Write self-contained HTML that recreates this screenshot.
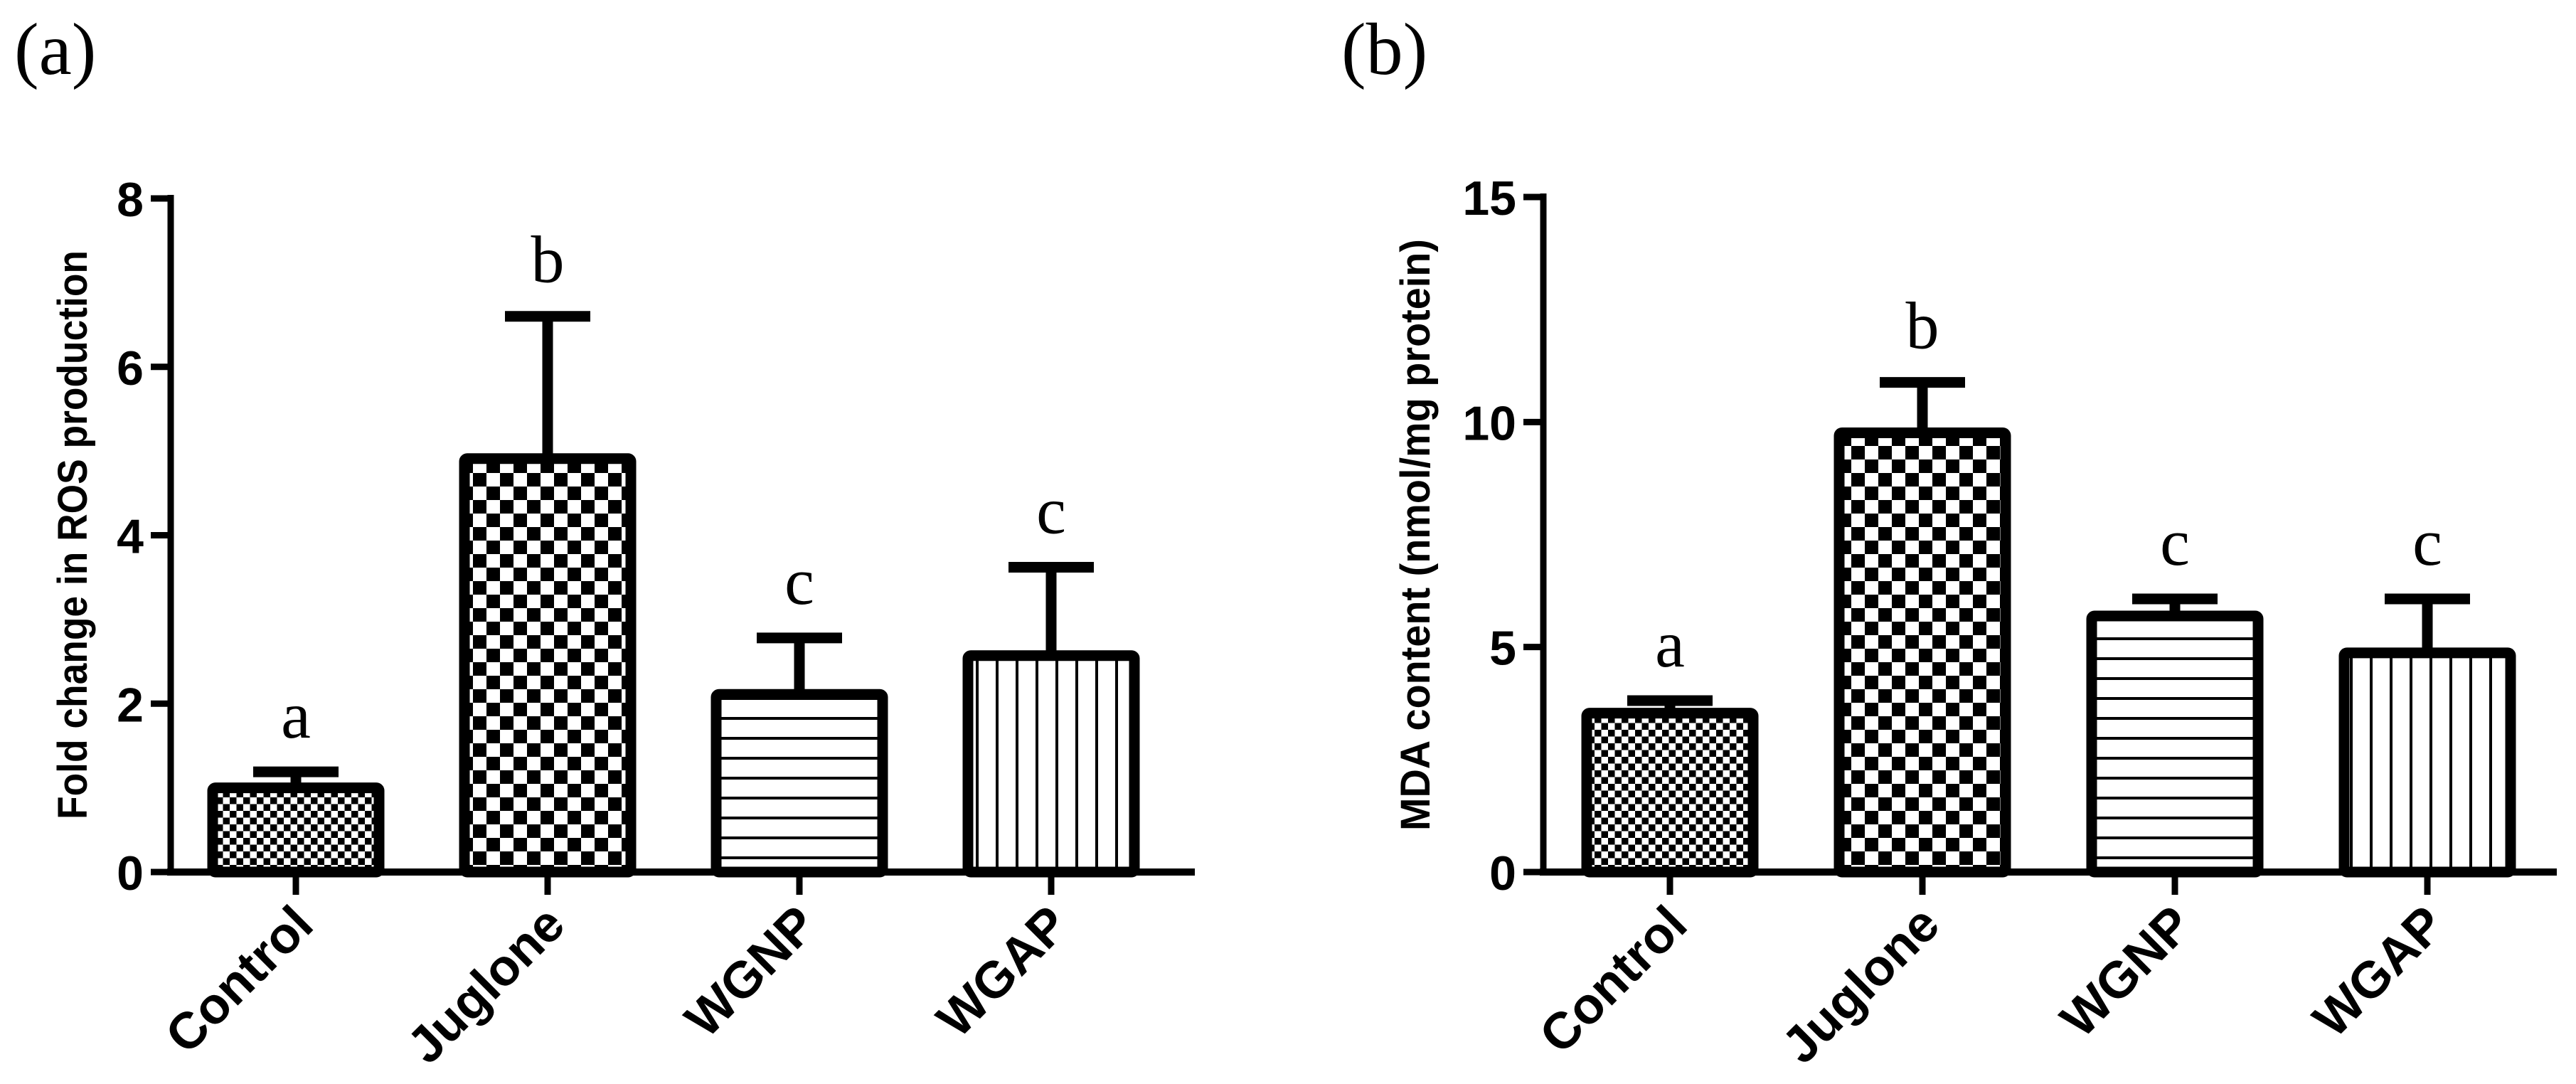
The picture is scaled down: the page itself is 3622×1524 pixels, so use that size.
<!DOCTYPE html>
<html><head><meta charset="utf-8"><style>
html,body{margin:0;padding:0;background:#fff;}
svg{display:block;}
.tick{font-family:"Liberation Sans",sans-serif;font-weight:bold;font-size:68px;}
.cat{font-family:"Liberation Sans",sans-serif;font-weight:bold;font-size:72px;}
.ytitle{font-family:"Liberation Sans",sans-serif;font-weight:bold;font-size:58px;}
.let{font-family:"Liberation Serif",serif;font-size:94px;}
.panel{font-family:"Liberation Serif",serif;font-size:104px;}
</style></head><body>
<svg id="fig" width="3622" height="1524" viewBox="0 0 3622 1524" xmlns="http://www.w3.org/2000/svg">
<defs>
<pattern id="fineChk" patternUnits="userSpaceOnUse" width="19" height="19"><rect width="19" height="19" fill="#fff"/><rect width="9.5" height="9.5" fill="#000"/><rect x="9.5" y="9.5" width="9.5" height="9.5" fill="#000"/></pattern>
<pattern id="coarseChk" patternUnits="userSpaceOnUse" width="38" height="38"><rect width="38" height="38" fill="#fff"/><rect width="19" height="19" fill="#000"/><rect x="19" y="19" width="19" height="19" fill="#000"/></pattern>
<pattern id="hLines" patternUnits="userSpaceOnUse" width="20" height="28"><rect width="20" height="28" fill="#fff"/><rect y="0" width="20" height="4" fill="#000"/></pattern>
<pattern id="vLines" patternUnits="userSpaceOnUse" width="28" height="20"><rect width="28" height="20" fill="#fff"/><rect x="0" width="4" height="20" fill="#000"/></pattern>
</defs>
<text class="panel" x="20" y="104">(a)</text>
<text class="panel" x="1886" y="104">(b)</text>
<g id="chartA"></g>
<g id="chartB"></g>
</svg>
<script>
const categories = ["Control","Juglone","WGNP","WGAP"];
const rosValues = [1.0, 4.91, 2.11, 2.57];
const rosErrors = [0.19, 1.69, 0.67, 1.05];
const rosLetters = ["a","b","c","c"];
const rosTicks = [0,2,4,6,8];
const mdaValues = [3.53, 9.76, 5.69, 4.87];
const mdaErrors = [0.28, 1.12, 0.38, 1.2];
const mdaLetters = ["a","b","c","c"];
const mdaTicks = [0,5,10,15];

const NS="http://www.w3.org/2000/svg";
function mk(parent,tag,attrs,text){const e=document.createElementNS(NS,tag);for(const k in attrs)e.setAttribute(k,attrs[k]);if(text!==undefined)e.textContent=text;parent.appendChild(e);return e;}
const fills=["url(#fineChk)","url(#coarseChk)","url(#hLines)","url(#vLines)"];

function drawChart(g,cfg){
  const y=v=>cfg.y0-(v/cfg.ymax)*(cfg.y0-cfg.ytop);
  const x=i=>cfg.firstCenter+i*cfg.step;
  const ya=mk(g,"line",{x1:cfg.ax,y1:cfg.ytop-5,x2:cfg.ax,y2:cfg.y0+5,stroke:"#000","stroke-width":9});
  
  
  cfg.ticks.forEach(t=>{
    const tl=mk(g,"line",{x1:cfg.ax-28,y1:y(t),x2:cfg.ax,y2:y(t),stroke:"#000","stroke-width":9});
    
    
    const tt=mk(g,"text",{class:"tick",x:cfg.ax-38,y:y(t)+25,"text-anchor":"end"},String(t));
    
    
  });
  const yt=mk(g,"text",{class:"ytitle",transform:`translate(${cfg.titleX},${cfg.titleY}) rotate(-90)`,"text-anchor":"middle","xml:space":"preserve",textLength:cfg.titleLen,lengthAdjust:"spacingAndGlyphs"},cfg.title);
  
  
  cfg.values.forEach((v,i)=>{
    const cx=x(i),hw=cfg.barW/2;
    const top=y(v),eTop=y(v+cfg.errors[i]);
    const st=mk(g,"line",{x1:cx,y1:top,x2:cx,y2:eTop,stroke:"#000","stroke-width":15});
    
    
    const cp=mk(g,"line",{x1:cx-60,y1:eTop,x2:cx+60,y2:eTop,stroke:"#000","stroke-width":15});
    
    
    const b=mk(g,"rect",{x:cx-hw+7,y:top,width:cfg.barW-14,height:cfg.y0-top,fill:fills[i],stroke:"#000","stroke-width":15,rx:4});
    
    
    const lt=mk(g,"text",{class:"let",x:cx,y:eTop-48,"text-anchor":"middle"},cfg.letters[i]);
    
    
    const xt=mk(g,"line",{x1:cx,y1:cfg.y0,x2:cx,y2:cfg.y0+32,stroke:"#000","stroke-width":9});
    
    
    const cl=mk(g,"text",{class:"cat",transform:`translate(${cx+28},${cfg.y0+78}) rotate(-45)`,"text-anchor":"end"},categories[i]);
    
    
  });
  const xa=mk(g,"line",{x1:cfg.ax-5,y1:cfg.y0,x2:cfg.xEnd,y2:cfg.y0,stroke:"#000","stroke-width":10});
  
  
}
drawChart(document.getElementById("chartA"),{ax:240,ytop:279,y0:1226,ymax:8,xEnd:1680,firstCenter:416,step:354,barW:248,ticks:rosTicks,values:rosValues,errors:rosErrors,letters:rosLetters,title:"Fold change in  ROS production",titleX:122,titleY:752,titleLen:800});
drawChart(document.getElementById("chartB"),{ax:2170,ytop:277,y0:1226,ymax:15,xEnd:3595,firstCenter:2348,step:355,barW:248,ticks:mdaTicks,values:mdaValues,errors:mdaErrors,letters:mdaLetters,title:"MDA content  (nmol/mg protein)",titleX:2010,titleY:752,titleLen:832});
</script>
</body></html>
